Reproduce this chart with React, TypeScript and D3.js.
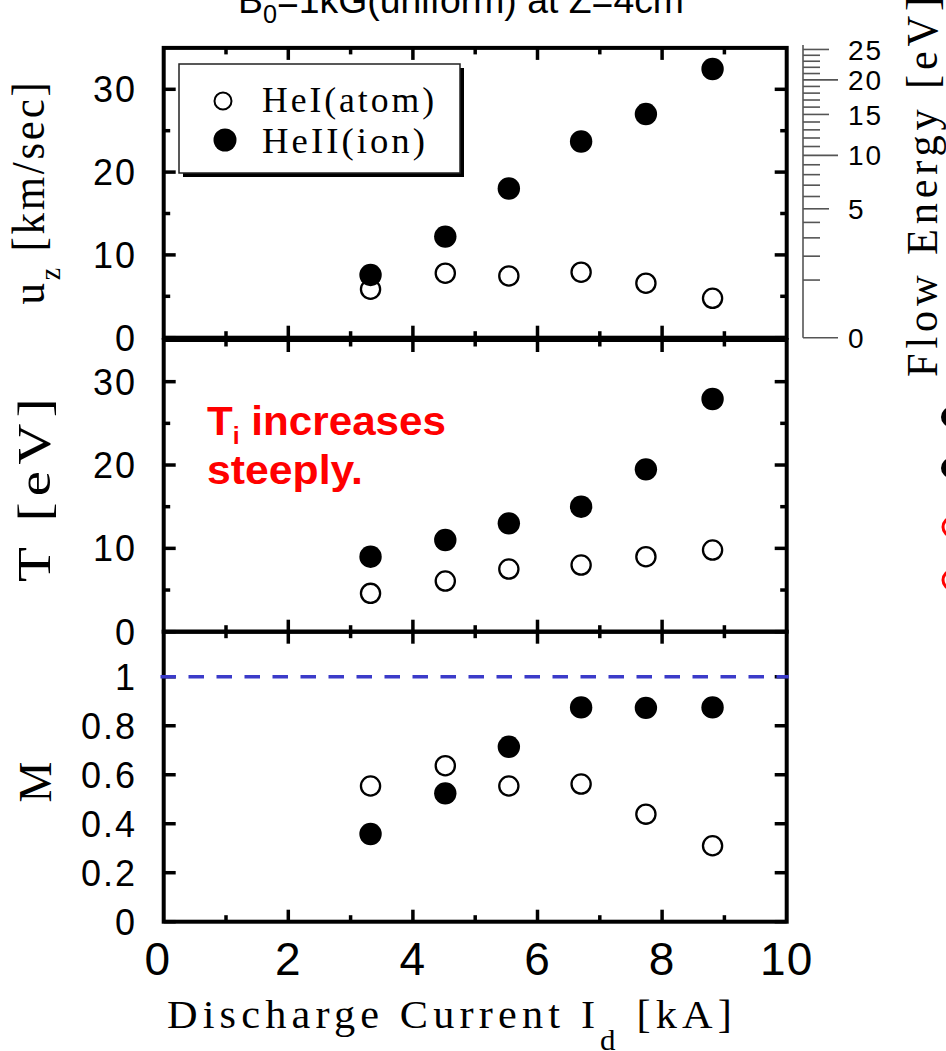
import React from 'react';
import * as d3 from 'd3';

// ---------- data ----------
const currents = [3.32, 4.52, 5.54, 6.7, 7.74, 8.81];
const uzAtom = [5.85, 7.79, 7.46, 7.91, 6.58, 4.76];
const uzIon = [7.58, 12.21, 18.02, 23.7, 27.01, 32.45];
const tAtom = [4.6, 6.08, 7.52, 8.0, 9.0, 9.8];
const tIon = [9.0, 11.0, 13.0, 15.0, 19.48, 27.92];
const mAtom = [0.554, 0.637, 0.554, 0.562, 0.439, 0.31];
const mIon = [0.358, 0.524, 0.714, 0.875, 0.873, 0.875];

const xTicks = [0, 2, 4, 6, 8, 10];
const xMinorTicks = [1, 3, 5, 7, 9];
const uzTicks = [0, 10, 20, 30];
const uzMinorTicks = [5, 15, 25];
const tTicks = [0, 10, 20, 30];
const tMinorTicks = [5, 15, 25];
const mTicks = [0, 0.2, 0.4, 0.6, 0.8, 1];
const mTickLabels = ['0', '0.2', '0.4', '0.6', '0.8', '1'];
const energyTicks = [0, 5, 10, 15, 20, 25];
const energyMinorTicks = d3.range(1, 25).filter((e) => e % 5 !== 0);
const seriesNames = ['HeI(atom)', 'HeII(ion)'];
const sonicLevel = 1;
// neighbouring (cut-off) legend swatches at the right edge
const edgeSwatches = [
  { filled: true, color: '#000' },
  { filled: true, color: '#000' },
  { filled: false, color: '#ff0000' },
  { filled: false, color: '#ff0000' },
];

// ---------- layout ----------
const W = 946;
const H = 1051;
const X0 = 163.7;
const X1 = 786.7;
const SANS = "'Liberation Sans', Arial, sans-serif";
const SERIF = "'Liberation Serif', 'Times New Roman', serif";
const K_EV = 0.02063; // flow energy [eV] = K * u[km/s]^2 (He)
const SG = 'spacingAndGlyphs';

const x = d3.scaleLinear().domain([0, 10]).range([X0, X1]);

type Panel = {
  key: string;
  y: d3.ScaleLinear<number, number>;
  ticks: number[];
  minor: number[];
  labels: string[];
  atom: number[];
  ion: number[];
};

const panels: Panel[] = [
  {
    key: 'uz',
    y: d3.scaleLinear().domain([0, 35]).range([337.7, 47.9]),
    ticks: uzTicks,
    minor: uzMinorTicks,
    labels: uzTicks.map(String),
    atom: uzAtom,
    ion: uzIon,
  },
  {
    key: 't',
    y: d3.scaleLinear().domain([0, 35]).range([631.7, 340]),
    ticks: tTicks,
    minor: tMinorTicks,
    labels: tTicks.map(String),
    atom: tAtom,
    ion: tIon,
  },
  {
    key: 'm',
    y: d3.scaleLinear().domain([0, 1.184]).range([921.7, 631.7]),
    ticks: mTicks,
    minor: [],
    labels: mTickLabels,
    atom: mAtom,
    ion: mIon,
  },
];

const MAJ = 12;
const MIN = 6.5;
const TW = 3.5;

function PanelFrame({ p }: { p: Panel }) {
  const [yb, yt] = p.y.range();
  const lines: JSX.Element[] = [];
  xTicks.slice(1, -1).forEach((t) => {
    lines.push(<line key={'xt' + t} x1={x(t)} x2={x(t)} y1={yt} y2={yt + MAJ} />);
    lines.push(<line key={'xb' + t} x1={x(t)} x2={x(t)} y1={yb} y2={yb - MAJ} />);
  });
  xMinorTicks.forEach((t) => {
    lines.push(<line key={'xmt' + t} x1={x(t)} x2={x(t)} y1={yt} y2={yt + MIN} />);
    lines.push(<line key={'xmb' + t} x1={x(t)} x2={x(t)} y1={yb} y2={yb - MIN} />);
  });
  p.ticks.forEach((t) => {
    const yy = p.y(t);
    lines.push(<line key={'yl' + t} x1={X0} x2={X0 + MAJ} y1={yy} y2={yy} />);
    lines.push(<line key={'yr' + t} x1={X1} x2={X1 - MAJ} y1={yy} y2={yy} />);
  });
  p.minor.forEach((t) => {
    const yy = p.y(t);
    lines.push(<line key={'yml' + t} x1={X0} x2={X0 + MIN} y1={yy} y2={yy} />);
    lines.push(<line key={'ymr' + t} x1={X1} x2={X1 - MIN} y1={yy} y2={yy} />);
  });
  return (
    <g>
      <g stroke="#000" strokeWidth={TW}>{lines}</g>
      <rect x={X0} y={yt} width={X1 - X0} height={yb - yt} fill="none" stroke="#000" strokeWidth={4} />
      <g fontFamily={SANS} fontSize={36} textAnchor="end" fill="#000">
        {p.ticks.map((t, i) => (
          <text key={'lab' + t} x={137} y={p.y(t)} dy="0.36em" letterSpacing={2}>
            {p.labels[i]}
          </text>
        ))}
      </g>
    </g>
  );
}

function Points({ p }: { p: Panel }) {
  return (
    <g>
      {p.atom.map((v, i) => (
        <circle key={'a' + i} cx={x(currents[i])} cy={p.y(v)} r={9.6} fill="#fff" stroke="#000" strokeWidth={2.3} />
      ))}
      {p.ion.map((v, i) => (
        <circle key={'i' + i} cx={x(currents[i])} cy={p.y(v)} r={11.2} fill="#000" />
      ))}
    </g>
  );
}

export default function App() {
  const yU = panels[0].y;
  const yE = (e: number) => yU(Math.sqrt(e / K_EV));
  const yM = panels[2].y;
  const AX = 803;
  return (
    <svg
      width={W}
      height={H}
      viewBox={`0 0 ${W} ${H}`}
      style={{ position: 'absolute', left: 0, top: 0, background: '#fff', display: 'block' }}
    >
      <rect x={0} y={0} width={W} height={H} fill="#fff" />

      {/* title (cut off at top) */}
      <text x={238} y={13} fontFamily={SANS} fontSize={37} textLength={446} lengthAdjust={SG} fill="#000">
        B<tspan fontSize={25} dy={10}>0</tspan>
        <tspan dy={-10}>=1kG(uniform) at Z=4cm</tspan>
      </text>

      {panels.map((p) => (
        <PanelFrame key={p.key} p={p} />
      ))}

      {/* sonic line M = 1 */}
      <line
        x1={160.5}
        x2={X1 + 2}
        y1={yM(sonicLevel)}
        y2={yM(sonicLevel)}
        stroke="#3b3bc9"
        strokeWidth={3.6}
        strokeDasharray="15.5 12.5"
      />

      {panels.map((p) => (
        <Points key={'pts' + p.key} p={p} />
      ))}

      {/* legend */}
      <g>
        <rect x={183} y={68} width={281} height={109} fill="#000" />
        <rect x={179} y={64} width={281} height={109} fill="#fff" stroke="#222" strokeWidth={1.5} />
        <circle cx={223} cy={101} r={8.5} fill="#fff" stroke="#000" strokeWidth={2} />
        <circle cx={225} cy={140} r={11.5} fill="#000" />
        <text x={262} y={112} fontFamily={SERIF} fontSize={36} letterSpacing={3} textLength={175} lengthAdjust={SG} fill="#000">
          {seriesNames[0]}
        </text>
        <text x={262} y={153} fontFamily={SERIF} fontSize={36} letterSpacing={3} textLength={166} lengthAdjust={SG} fill="#000">
          {seriesNames[1]}
        </text>
      </g>

      {/* annotation */}
      <g fontFamily={SANS} fontWeight="bold" fontSize={41} fill="#ff0000">
        <text x={207} y={435} textLength={239} lengthAdjust={SG}>
          T<tspan fontSize={24} dy={9}>i</tspan>
          <tspan dy={-9}> increases</tspan>
        </text>
        <text x={207} y={484} textLength={156} lengthAdjust={SG}>
          steeply.
        </text>
      </g>

      {/* right flow-energy axis */}
      <g stroke="#555" strokeWidth={1.6}>
        <line x1={AX} x2={AX} y1={45} y2={yE(0)} />
        {energyMinorTicks.map((e) => (
          <line key={'em' + e} x1={AX} x2={AX + 17} y1={yE(e)} y2={yE(e)} />
        ))}
        {energyTicks.map((e) => (
          <line key={'eM' + e} x1={AX} x2={AX + (e % 10 === 0 ? 35 : 26)} y1={yE(e)} y2={yE(e)} />
        ))}
      </g>
      <g fontFamily={SANS} fontSize={28} fill="#000">
        {energyTicks.map((e) => (
          <text key={'el' + e} x={848} y={yE(e)} dy="0.36em" letterSpacing={2}>
            {e}
          </text>
        ))}
      </g>
      <text
        transform={`translate(937,377) rotate(-90)`}
        fontFamily={SERIF}
        fontSize={44}
        letterSpacing={5}
        textLength={385}
        lengthAdjust={SG}
        fill="#000"
      >
        Flow Energy [eV]
      </text>

      {/* cut-off neighbouring legend markers */}
      {edgeSwatches.map((s, i) => {
        const cy = [417, 468, 527, 580][i];
        return s.filled ? (
          <circle key={'sw' + i} cx={951} cy={cy} r={10} fill={s.color} />
        ) : (
          <circle key={'sw' + i} cx={952} cy={cy} r={9} fill="none" stroke={s.color} strokeWidth={3} />
        );
      })}

      {/* x tick labels */}
      <g fontFamily={SANS} fontSize={46} textAnchor="middle" fill="#000">
        {xTicks.map((t) => (
          <text key={'xl' + t} x={t === 0 ? x(t) - 6 : x(t)} y={975} letterSpacing={1}>
            {t}
          </text>
        ))}
      </g>

      {/* x axis label */}
      <text
        x={167}
        y={1028}
        fontFamily={SERIF}
        fontSize={41}
        letterSpacing={5}
        textLength={570}
        lengthAdjust={SG}
        fill="#000"
      >
        Discharge Current I<tspan fontSize={30} dy={22}>d</tspan>
        <tspan dy={-22}> [kA]</tspan>
      </text>

      {/* y axis labels */}
      <g fontFamily={SERIF} fontSize={46} fill="#000" textAnchor="middle">
        <text transform={`translate(44,192) rotate(-90)`} letterSpacing={3} textLength={225} lengthAdjust={SG}>
          u<tspan fontSize={30} dy={16}>z</tspan>
          <tspan dy={-16}> [km/sec]</tspan>
        </text>
        <text transform={`translate(50,487) rotate(-90)`} letterSpacing={5} textLength={190} lengthAdjust={SG}>
          T [eV]
        </text>
        <text transform={`translate(51,782) rotate(-90)`}>M</text>
      </g>
    </svg>
  );
}
